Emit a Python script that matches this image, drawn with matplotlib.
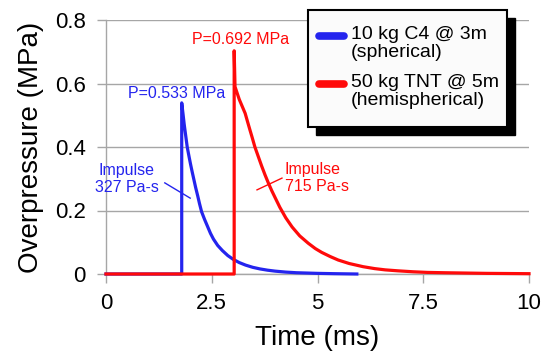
import matplotlib
matplotlib.use("Agg")
import matplotlib.pyplot as plt
from matplotlib.patches import Rectangle
from matplotlib.lines import Line2D

plt.rcParams['font.family'] = ['Liberation Sans', 'DejaVu Sans']

# values
c4_t = [0.0, 1.79, 1.79, 1.82, 1.85, 1.88, 1.92, 1.96, 2.00, 2.04, 2.08, 2.12,
        2.17, 2.21, 2.26, 2.33, 2.40, 2.47, 2.54, 2.64, 2.75, 2.88, 3.01, 3.15,
        3.30, 3.47, 3.64, 3.82, 4.00, 4.25, 4.50, 4.75, 5.00, 5.40, 5.93]
c4_p = [0.0, 0.0, 0.539, 0.505, 0.470, 0.440, 0.400, 0.372, 0.345, 0.320, 0.296,
        0.272, 0.245, 0.222, 0.196, 0.172, 0.150, 0.128, 0.110, 0.090, 0.074,
        0.058, 0.046, 0.036, 0.028, 0.021, 0.016, 0.012, 0.009, 0.006, 0.004,
        0.003, 0.002, 0.001, 0.0]

tnt_t = [0.0, 3.03, 3.03, 3.05, 3.10, 3.15, 3.22, 3.29, 3.35, 3.40, 3.46, 3.52,
         3.60, 3.68, 3.76, 3.84, 3.92, 4.00, 4.11, 4.25, 4.40, 4.58, 4.78, 4.95,
         5.10, 5.30, 5.49, 5.75, 6.08, 6.35, 6.60, 6.90, 7.26, 7.60, 8.00, 8.50,
         9.00, 9.50, 10.0]
tnt_p = [0.0, 0.0, 0.703, 0.590, 0.570, 0.550, 0.528, 0.506, 0.478, 0.455, 0.428,
         0.400, 0.370, 0.340, 0.312, 0.286, 0.262, 0.240, 0.210, 0.177, 0.148,
         0.120, 0.097, 0.080, 0.068, 0.055, 0.044, 0.033, 0.023, 0.017, 0.013,
         0.010, 0.007, 0.005, 0.004, 0.003, 0.002, 0.0015, 0.001]

series_labels = ["10 kg C4 @ 3m\n(spherical)", "50 kg TNT @ 5m\n(hemispherical)"]
peak_labels = ["P=0.533 MPa", "P=0.692 MPa"]
impulse_labels = ["Impulse\n327 Pa-s", "Impulse\n715 Pa-s"]
xticks = [0, 2.5, 5, 7.5, 10]
xtick_labels = ["0", "2.5", "5", "7.5", "10"]
yticks = [0, 0.2, 0.4, 0.6, 0.8]
ytick_labels = ["0", "0.2", "0.4", "0.6", "0.8"]

blue = '#2424ee'
red = '#ff0a0a'
grid = '#a6a6a6'

W, H = 542, 354
fig = plt.figure(figsize=(W / 100, H / 100), dpi=100)
ax = fig.add_axes([106 / W, 1 - 274 / H, 423 / W, 254 / H])

ax.plot(c4_t, c4_p, color=blue, lw=2.3, clip_on=False, zorder=3)
ax.plot(tnt_t, tnt_p, color=red, lw=2.3, clip_on=False, zorder=4)

ax.set_xlim(0, 10)
ax.set_ylim(0, 0.8)
ax.set_xticks(xticks, xtick_labels)
ax.set_yticks(yticks, ytick_labels)
ax.yaxis.grid(True, color=grid, lw=1)
ax.set_axisbelow(True)
for s in ['top', 'right']:
    ax.spines[s].set_visible(False)
for s in ['left', 'bottom']:
    ax.spines[s].set_color(grid)
    ax.spines[s].set_linewidth(1)
ax.tick_params(axis='both', colors=grid, labelcolor='black', labelsize=16,
               length=6.5, width=1)
ax.tick_params(axis='x', pad=7)
ax.tick_params(axis='y', pad=8)
ax.set_xlabel("Time (ms)", fontsize=20, labelpad=8)
ax.set_ylabel("Overpressure (MPa)", fontsize=20, labelpad=8)

# peak labels
ax.text(1.68, 0.570, peak_labels[0], color=blue, fontsize=11.5, ha='center', va='center')
ax.text(3.19, 0.740, peak_labels[1], color=red, fontsize=11.5, ha='center', va='center')

# impulse labels with leader lines
ax.text(1.24, 0.300, impulse_labels[0], color=blue, fontsize=11.5, ha='right',
        va='center', multialignment='center', linespacing=1.15)
ax.plot([1.39, 1.99], [0.287, 0.239], color=blue, lw=1)
ax.text(4.22, 0.302, impulse_labels[1], color=red, fontsize=11.5, ha='left',
        va='center', multialignment='left', linespacing=1.15)
ax.plot([3.57, 4.16], [0.265, 0.302], color=red, lw=1)

# legend box with drop shadow (figure pixels)
def fx(x):
    return x / W

def fy(y):
    return 1 - y / H

fig.patches.append(Rectangle((fx(316), fy(135)), 199 / W, 117 / H, transform=fig.transFigure,
                             facecolor='black', edgecolor='black', zorder=5))
fig.patches.append(Rectangle((fx(308), fy(127)), 199 / W, 117 / H, transform=fig.transFigure,
                             facecolor='#fbfbfb', edgecolor='black', lw=1.5, zorder=6))

for (y_line, col, lab) in [(36, blue, series_labels[0]), (84, red, series_labels[1])]:
    fig.add_artist(Line2D([fx(319), fx(344)], [fy(y_line), fy(y_line)], color=col, lw=5.5,
                          solid_capstyle='round', transform=fig.transFigure, zorder=7))
    fig.text(fx(351), fy(y_line - 10), lab, fontsize=14, ha='left', va='top',
             linespacing=1.05, zorder=7)

fig.savefig("out.png", dpi=100)
